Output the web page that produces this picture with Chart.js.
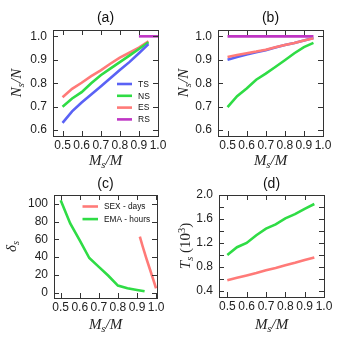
<!DOCTYPE html>
<html>
<head>
<meta charset="utf-8">
<script src="https://cdn.jsdelivr.net/npm/chart.js@4.4.0/dist/chart.umd.min.js"></script>
<style>
html, body { margin: 0; padding: 0; background: #fff; }
#wrap { position: relative; width: 343px; height: 343px; }
canvas { position: absolute; }
</style>
</head>
<body>
<div id="wrap">
  <canvas id="pa" width="171" height="171" style="left:0;top:0"></canvas>
  <canvas id="pb" width="172" height="171" style="left:171px;top:0"></canvas>
  <canvas id="pc" width="171" height="172" style="left:0;top:171px"></canvas>
  <canvas id="pd" width="172" height="172" style="left:171px;top:171px"></canvas>
</div>
<script>
// shared x values (Ms/M)
const ms = [0.5, 0.55, 0.6, 0.65, 0.7, 0.75, 0.8, 0.85, 0.9, 0.95];

// (a)
const aTS = [0.631, 0.68, 0.718, 0.752, 0.786, 0.821, 0.856, 0.89, 0.928, 0.967];
const aNS = [0.70, 0.735, 0.762, 0.80, 0.834, 0.862, 0.89, 0.918, 0.946, 0.975];
const aES = [0.74, 0.776, 0.802, 0.83, 0.855, 0.883, 0.909, 0.93, 0.952, 0.979];
const aRSx = [0.9, 1.0];
const aRS = [1.0, 1.0];

// (b)
const bTS = [0.900, 0.912, 0.923, 0.932, 0.941, 0.952, 0.963, 0.972, 0.982, 0.993];
const bNS = [0.698, 0.745, 0.778, 0.815, 0.841, 0.869, 0.898, 0.928, 0.954, 0.972];
const bES = [0.912, 0.92, 0.928, 0.935, 0.943, 0.953, 0.963, 0.972, 0.982, 0.992];
const bRS = [1, 1, 1, 1, 1, 1, 1, 1, 1, 1];

// (c)
const sexX = [0.915, 0.93, 0.95, 0.97, 0.985, 1.0];
const sexDays = [63, 52, 38, 25, 15, 5];
const emaX = [0.5, 0.55, 0.6, 0.65, 0.7, 0.75, 0.8, 0.85, 0.9, 0.94];
const emaHours = [104, 78, 59, 39, 29, 19, 8, 5, 3, 1.5];

// (d)
const dGreen = [1.0, 1.13, 1.2, 1.33, 1.44, 1.51, 1.61, 1.68, 1.77, 1.85];
const dRed = [0.58, 0.62, 0.66, 0.70, 0.745, 0.785, 0.83, 0.87, 0.915, 0.96];

// ticks
const xTicks = [0.5, 0.6, 0.7, 0.8, 0.9, 1.0];
const yTicksAB = [0.6, 0.7, 0.8, 0.9, 1.0];
const yTicksC = [0, 20, 40, 60, 80, 100];
const yTicksD = [0.4, 0.6, 0.8, 1.0, 1.2, 1.4, 1.6, 1.8, 2.0];
const yLabelsD = [0.4, 0.8, 1.2, 1.6, 2.0];

const BLUE = '#5a62f5', GREEN = '#2fdc45', SALMON = '#ff7a78', PURPLE = '#bf35c4';
const SANS = '"Liberation Sans", Arial, sans-serif';
const SERIF = '"Liberation Serif", "DejaVu Serif", serif';

const pts = (xs, ys) => xs.map((x, i) => ({ x: x, y: ys[i] }));

function line(label, xs, ys, color) {
    return {
        label: label,
        data: pts(xs, ys),
        borderColor: color,
        backgroundColor: color,
        borderWidth: 2.6,
        pointRadius: 0,
        tension: 0,
        fill: false
    };
}

// draw text with sub/superscripts: parts = [text, italic, shift]
function drawMath(ctx, parts, cx, cy, rot) {
    const size = 15;
    const fontOf = p => (p[1] ? 'italic ' : '') + (p[2] ? size * 0.7 : size) + 'px ' + SERIF;
    let w = 0;
    parts.forEach(p => { ctx.font = fontOf(p); w += ctx.measureText(p[0]).width; });
    ctx.save();
    ctx.translate(cx, cy);
    if (rot) ctx.rotate(-Math.PI / 2);
    ctx.fillStyle = '#222';
    ctx.textBaseline = 'middle';
    ctx.textAlign = 'left';
    let x = -w / 2;
    parts.forEach(p => {
        ctx.font = fontOf(p);
        ctx.fillText(p[0], x, p[2] * size * 0.28);
        x += ctx.measureText(p[0]).width;
    });
    ctx.restore();
}

const framePlugin = {
    id: 'frame',
    afterDraw(chart, args, o) {
        const ctx = chart.ctx;
        const a = chart.chartArea;
        const xs = chart.scales.x, ys = chart.scales.y;
        ctx.save();
        ctx.strokeStyle = '#333';
        ctx.lineWidth = 1;
        ctx.strokeRect(Math.round(a.left) + 0.5, Math.round(a.top) + 0.5,
            Math.round(a.right - a.left), Math.round(a.bottom - a.top));
        const tl = 5;
        ctx.beginPath();
        xs.ticks.forEach(t => {
            const px = Math.round(xs.getPixelForValue(t.value)) + 0.5;
            ctx.moveTo(px, a.bottom); ctx.lineTo(px, a.bottom - tl);
            ctx.moveTo(px, a.top); ctx.lineTo(px, a.top + tl);
        });
        ys.ticks.forEach(t => {
            const py = Math.round(ys.getPixelForValue(t.value)) + 0.5;
            ctx.moveTo(a.left, py); ctx.lineTo(a.left + tl, py);
            ctx.moveTo(a.right, py); ctx.lineTo(a.right - tl, py);
        });
        ctx.stroke();

        // panel title
        ctx.fillStyle = '#111';
        ctx.font = '14px ' + SANS;
        ctx.textAlign = 'center';
        ctx.textBaseline = 'middle';
        ctx.fillText(o.title, (a.left + a.right) / 2, o.titleY);

        // axis titles
        drawMath(ctx, [['M', 1, 0], ['s', 1, 1], ['/M', 1, 0]], (a.left + a.right) / 2, o.xLabelY, false);
        drawMath(ctx, o.yLabel, o.yLabelX, (a.top + a.bottom) / 2, true);

        // legend
        if (o.legend) {
            ctx.font = o.legend.font + 'px ' + SANS;
            ctx.textAlign = 'left';
            chart.data.datasets.forEach((ds, i) => {
                if (!ds.label) return;
                const y = o.legend.y + i * o.legend.row;
                ctx.strokeStyle = ds.borderColor;
                ctx.lineWidth = 2.6;
                ctx.beginPath();
                ctx.moveTo(o.legend.x, y);
                ctx.lineTo(o.legend.x + o.legend.len, y);
                ctx.stroke();
                ctx.fillStyle = '#111';
                ctx.fillText(ds.label, o.legend.x + o.legend.len + 6, y + 0.5);
            });
        }
        ctx.restore();
    }
};

function panel(id, box, cfg) {
    const cv = document.getElementById(id);
    const W = cv.width, H = cv.height;
    return new Chart(cv, {
        type: 'line',
        data: { datasets: cfg.datasets },
        options: {
            responsive: false,
            animation: false,
            layout: { padding: { top: box.top, right: W - box.right, left: 0, bottom: 0 } },
            plugins: {
                legend: { display: false },
                tooltip: { enabled: false },
                frame: cfg.frame
            },
            scales: {
                x: {
                    type: 'linear',
                    min: cfg.xmin, max: cfg.xmax,
                    grid: { display: false, drawTicks: false },
                    border: { display: false },
                    afterBuildTicks: s => { s.ticks = xTicks.map(v => ({ value: v })); },
                    afterFit: s => { s.height = H - box.bottom; },
                    ticks: {
                        padding: 2,
                        maxRotation: 0,
                        autoSkip: false,
                        color: '#222',
                        font: { family: SANS, size: 12 },
                        callback: v => v.toFixed(1)
                    }
                },
                y: {
                    min: cfg.ymin, max: cfg.ymax,
                    grid: { display: false, drawTicks: false },
                    border: { display: false },
                    afterBuildTicks: s => { s.ticks = cfg.yTicks.map(v => ({ value: v })); },
                    afterFit: s => { s.width = box.left; },
                    ticks: {
                        padding: 6,
                        autoSkip: false,
                        color: '#222',
                        font: { family: SANS, size: 12 },
                        callback: cfg.yFmt
                    }
                }
            }
        },
        plugins: [framePlugin]
    });
}

const fmt1 = v => v.toFixed(1);
const nsLabel = [['N', 1, 0], ['s', 1, 1], ['/N', 1, 0]];

panel('pa', { left: 53, top: 30, right: 158, bottom: 136 }, {
    xmin: 0.45, xmax: 1.0, ymin: 0.575, ymax: 1.027, yTicks: yTicksAB, yFmt: fmt1,
    datasets: [
        line('TS', ms, aTS, BLUE),
        line('NS', ms, aNS, GREEN),
        line('ES', ms, aES, SALMON),
        line('RS', aRSx, aRS, PURPLE)
    ],
    frame: { title: '(a)', titleY: 18, xLabelY: 161, yLabel: nsLabel, yLabelX: 17,
        legend: { x: 117, y: 84, row: 11.8, len: 15, font: 8.5 } }
});

panel('pb', { left: 47, top: 30, right: 152, bottom: 136 }, {
    xmin: 0.45, xmax: 1.0, ymin: 0.575, ymax: 1.027, yTicks: yTicksAB, yFmt: fmt1,
    datasets: [
        line('', ms, bES, SALMON),
        line('', ms, bTS, BLUE),
        line('', ms, bNS, GREEN),
        line('', ms, bRS, PURPLE)
    ],
    frame: { title: '(b)', titleY: 18, xLabelY: 161, yLabel: nsLabel, yLabelX: 13 }
});

panel('pc', { left: 54, top: 24, right: 157, bottom: 127 }, {
    xmin: 0.465, xmax: 1.005, ymin: -6, ymax: 110, yTicks: yTicksC, yFmt: v => String(v),
    datasets: [
        line('SEX - days', sexX, sexDays, SALMON),
        line('EMA - hours', emaX, emaHours, GREEN)
    ],
    frame: { title: '(c)', titleY: 13.5, xLabelY: 154, yLabel: [['δ', 1, 0], ['s', 1, 1]], yLabelX: 12,
        legend: { x: 82.5, y: 35.5, row: 12.6, len: 15.5, font: 8.3 } }
});

panel('pd', { left: 48, top: 24, right: 153, bottom: 126 }, {
    xmin: 0.457, xmax: 1.0, ymin: 0.3, ymax: 2.0, yTicks: yTicksD,
    yFmt: v => (yLabelsD.some(l => Math.abs(l - v) < 1e-6) ? v.toFixed(1) : ''),
    datasets: [
        line('', ms, dGreen, GREEN),
        line('', ms, dRed, SALMON)
    ],
    frame: { title: '(d)', titleY: 13.5, xLabelY: 154,
        yLabel: [['T', 1, 0], ['s', 1, 1], [' (10', 0, 0], ['3', 0, -1], [')', 0, 0]], yLabelX: 15 }
});
</script>
</body>
</html>
